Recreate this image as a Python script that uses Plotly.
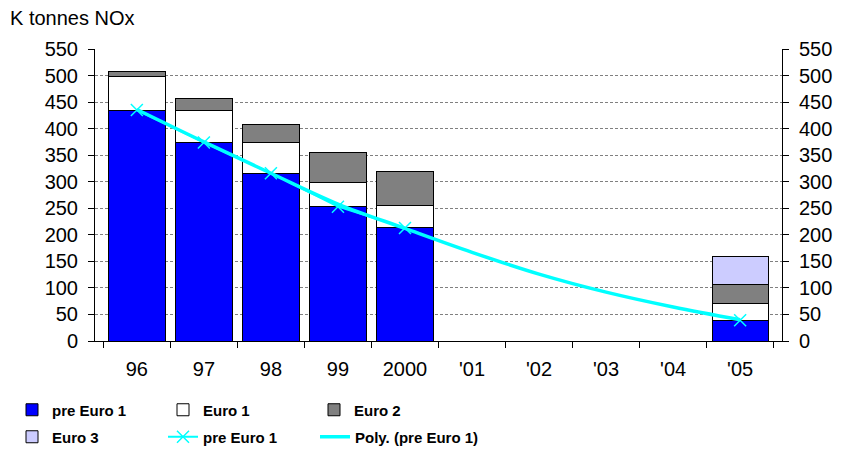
import plotly.graph_objects as go

years = ["96", "97", "98", "99", "2000", "'01", "'02", "'03", "'04", "'05"]
pre_euro1 = [435, 374, 316, 253, 213, None, None, None, None, 39]
euro1 = [63, 61, 57, 46, 43, None, None, None, None, 31]
euro2 = [10, 21, 34, 57, 64, None, None, None, None, 37]
euro3 = [0, 0, 0, 0, 0, None, None, None, None, 53]
poly_trend = [436, 375, 316, 258, 212, 167, 126, 92, 64, 40]

font = "Liberation Sans, Arial, sans-serif"

fig = go.Figure()
bar_line = dict(color="black", width=1)
fig.add_trace(go.Bar(x=years, y=pre_euro1, name="pre Euro 1", legend="legend",
                     marker=dict(color="#0000FF", line=bar_line)))
fig.add_trace(go.Bar(x=years, y=euro1, name="Euro 1", legend="legend",
                     marker=dict(color="#FFFFFF", line=bar_line)))
fig.add_trace(go.Bar(x=years, y=euro2, name="Euro 2", legend="legend",
                     marker=dict(color="#808080", line=bar_line)))
fig.add_trace(go.Bar(x=years, y=euro3, name="Euro 3", legend="legend2",
                     marker=dict(color="#CCCCFF", line=bar_line)))
fig.add_trace(go.Scatter(x=years, y=pre_euro1, name="pre Euro 1", legend="legend2",
                         mode="lines+markers", connectgaps=False,
                         line=dict(color="#00FFFF", width=2),
                         marker=dict(symbol="x-thin", size=12, color="#00FFFF",
                                     line=dict(color="#00FFFF", width=1.5))))
fig.add_trace(go.Scatter(x=years, y=poly_trend, name="Poly. (pre Euro 1)", legend="legend3",
                         mode="lines", line=dict(color="#00FFFF", width=3.5, shape="spline")))
# invisible trace so the right-hand axis is drawn
fig.add_trace(go.Scatter(x=years, y=poly_trend, yaxis="y2", mode="lines",
                         line=dict(width=0), opacity=0, showlegend=False, hoverinfo="skip"))

axis_common = dict(range=[0, 550], dtick=50, ticks="outside", ticklen=6,
                   tickcolor="black", showline=True, linecolor="black", linewidth=1,
                   ticklabelstandoff=6, automargin=False,
                   tickfont=dict(family=font, size=20, color="black"))

# y < 0 in paper coords -> legend counts as below the plot, so 3 entries fit per row
legend_common = dict(orientation="h", xref="paper", xanchor="left",
                     yref="paper", yanchor="middle", entrywidth=106,
                     traceorder="normal", bgcolor="rgba(0,0,0,0)",
                     font=dict(family=font, size=15, color="black", weight="bold"))

# page body has an 8px margin, so the figure is 8px smaller each way
fig.update_layout(
    width=835, height=452,
    margin=dict(l=87, r=61, t=41, b=119, autoexpand=False),
    paper_bgcolor="white", plot_bgcolor="white",
    barmode="stack", bargap=0.16,
    font=dict(family=font, size=16, color="black"),
    xaxis=dict(type="category", tickson="boundaries", ticks="outside", ticklen=6,
               tickcolor="black", showline=True, linecolor="black", showgrid=False,
               automargin=False, ticklabelstandoff=10,
               tickfont=dict(family=font, size=20, color="black")),
    yaxis=dict(**axis_common, showgrid=True, gridcolor="#808080", griddash="3px,2px",
               gridwidth=1, zeroline=False),
    yaxis2=dict(**axis_common, overlaying="y", side="right", showgrid=False,
                zeroline=False),
    legend=dict(**legend_common, x=(12 - 95) / 687, y=(341 - 410) / 292),
    legend2=dict(**legend_common, x=(12 - 95) / 687, y=(341 - 437) / 292),
    legend3=dict(**{**legend_common, "entrywidth": 0}, x=(315 - 95) / 687,
                 y=(341 - 437) / 292),
    annotations=[dict(text="K tonnes NOx", xref="paper", yref="paper",
                      x=-87 / 687, y=1 + 31 / 292, xanchor="left", yanchor="middle",
                      showarrow=False, font=dict(family=font, size=20, color="black"))],
)

fig.write_html("out.html")
